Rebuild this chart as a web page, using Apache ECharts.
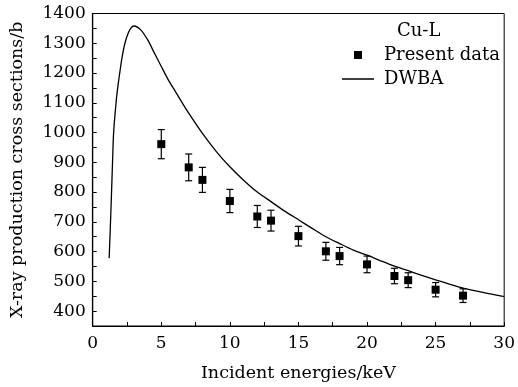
<!DOCTYPE html>
<html><head><meta charset="utf-8">
<script src="https://cdn.jsdelivr.net/npm/echarts@6/dist/echarts.min.js"></script>
<style>html,body{margin:0;padding:0;background:#fff}#c{width:518px;height:387px}</style>
</head><body><div id="c"></div>
<script>
const energies = [5, 7, 8, 10, 12, 13, 15, 17, 18, 20, 22, 23, 25, 27];
const presentData = [961, 883, 841, 770, 718, 704, 652, 601, 585, 557, 518, 504, 472, 452];
const errors = [49, 45, 42, 39, 37, 35, 33, 30, 29, 28, 26, 25, 24, 23];
const dwbaX = [1.2, 1.32, 1.44, 1.53, 1.73, 1.85, 2.0, 2.15, 2.35, 2.6, 2.8, 3.0, 3.5, 4.0, 4.5, 5.0, 5.5, 6.0, 7.0, 8.0, 9.0, 10.0, 11.0, 12.0, 13.0, 14.0, 15.0, 16.0, 17.0, 18.0, 19.0, 20.0, 21.0, 22.0, 23.0, 24.0, 25.0, 26.0, 27.0, 28.0, 29.0, 30.0];
const dwbaY = [578, 726, 892, 1003, 1113, 1160, 1210, 1255, 1300, 1335, 1352, 1358, 1345, 1312, 1267, 1222, 1178, 1140, 1065, 997, 937, 885, 840, 800, 768, 736, 707, 678, 650, 627, 605, 588, 569, 551, 536, 520, 505, 491, 477, 467, 458, 449];
const xTicks = [0, 5, 10, 15, 20, 25, 30];
const yTicks = [400, 500, 600, 700, 800, 900, 1000, 1100, 1200, 1300, 1400];

const font = 'DejaVu Serif';
const chart = echarts.init(document.getElementById('c'));
const scatterData = energies.map((e, i) => [e, presentData[i]]);
const errData = energies.map((e, i) => [e, presentData[i] - errors[i], presentData[i] + errors[i]]);
const lineData = dwbaX.map((x, i) => [x, dwbaY[i]]);

const squareIcon = 'path://M0,0 L0.01,0 L0.01,0.01 Z M12,0 L20,0 L20,8 L12,8 Z M36.99,7.99 L37,7.99 L37,8 Z';
const lineIcon = 'path://M0,0 L0.01,0 L0.01,0.01 Z M0,3.35 L32,3.35 L32,4.65 L0,4.65 Z M36.99,7.99 L37,7.99 L37,8 Z';

chart.setOption({
  animation: false,
  backgroundColor: '#fff',
  title: { text: 'Cu-L', left: 397, top: 22, padding: 0, textStyle: { fontFamily: font, fontSize: 18, fontWeight: 'normal', color: '#000' } },
  legend: {
    orient: 'vertical', left: 342, top: 46, padding: 0, itemWidth: 37, itemHeight: 8, itemGap: 6,
    textStyle: { fontFamily: font, fontSize: 18, lineHeight: 18, color: '#000' },
    data: [{ name: 'Present data', icon: squareIcon }, { name: 'DWBA', icon: lineIcon }]
  },
  grid: { left: 92.7, right: 8.5, top: 13.5, bottom: 57, show: true, borderColor: '#000', borderWidth: 1 },
  xAxis: {
    type: 'value', min: 0, max: 30, interval: 5,
    name: 'Incident energies/keV', nameLocation: 'middle', nameGap: 38,
    nameTextStyle: { fontFamily: font, fontSize: 17.5, color: '#000' },
    axisLine: { lineStyle: { color: '#000', width: 1.2 } },
    axisTick: { inside: true, length: 4, lineStyle: { color: '#000' } },
    minorTick: { show: true, splitNumber: 2, length: 4, lineStyle: { color: '#000' } },
    axisLabel: { margin: 9, fontFamily: font, fontSize: 17, color: '#000',
      formatter: v => xTicks.includes(v) ? String(v) : '' },
    splitLine: { show: false }
  },
  yAxis: {
    type: 'value', min: 350, max: 1400, interval: 50,
    name: 'X-ray production cross sections/b', nameLocation: 'middle', nameGap: 66,
    nameTextStyle: { fontFamily: font, fontSize: 17.5, color: '#000' },
    axisLine: { show: true, lineStyle: { color: '#000', width: 1.2 } },
    axisTick: { show: true, inside: true, length: 4, lineStyle: { color: '#000' } },
    axisLabel: { margin: 7, fontFamily: font, fontSize: 17, color: '#000',
      formatter: v => yTicks.includes(v) ? String(v) : '' },
    splitLine: { show: false }
  },
  series: [
    {
      name: 'Present data', type: 'scatter', symbol: 'rect', symbolSize: 8,
      itemStyle: { color: '#000', opacity: 1 }, data: scatterData, z: 3
    },
    {
      name: 'errbar', type: 'custom', data: errData, z: 2,
      renderItem: function (params, api) {
        const x = api.value(0);
        const lo = api.coord([x, api.value(1)]);
        const hi = api.coord([x, api.value(2)]);
        const hw = 3.5;
        const st = { stroke: '#000', lineWidth: 1.2 };
        return { type: 'group', children: [
          { type: 'line', shape: { x1: lo[0], y1: lo[1], x2: hi[0], y2: hi[1] }, style: st },
          { type: 'line', shape: { x1: lo[0] - hw, y1: lo[1], x2: lo[0] + hw, y2: lo[1] }, style: st },
          { type: 'line', shape: { x1: hi[0] - hw, y1: hi[1], x2: hi[0] + hw, y2: hi[1] }, style: st }
        ] };
      }
    },
    {
      name: 'DWBA', type: 'line', data: lineData, smooth: 0.3, showSymbol: false, symbol: 'none',
      lineStyle: { color: '#000', width: 1.3 }, itemStyle: { color: '#000' }, z: 1
    }
  ]
});
</script></body></html>
